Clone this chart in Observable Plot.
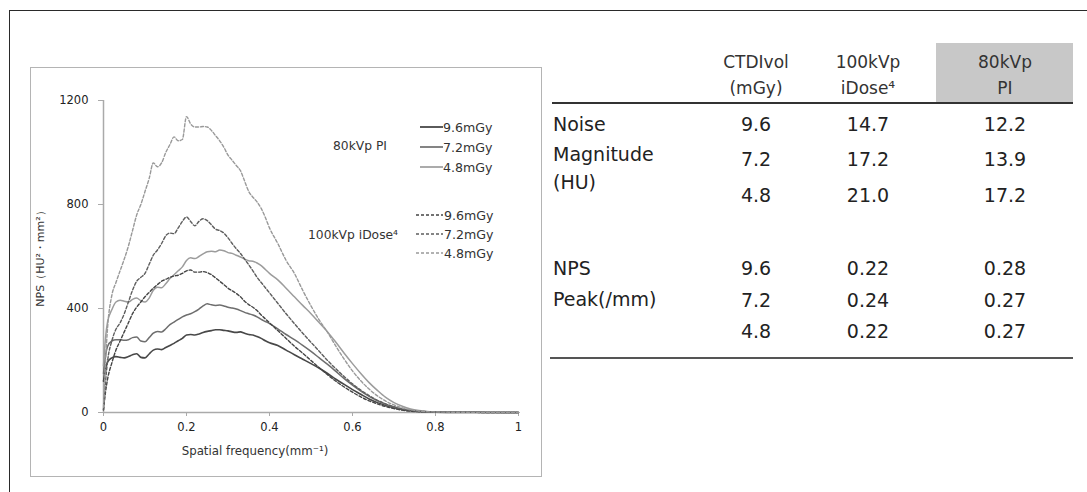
<!DOCTYPE html>
<html>
<head>
<meta charset="utf-8">
<script src="https://cdn.jsdelivr.net/npm/d3@7"></script>
<script src="https://cdn.jsdelivr.net/npm/@observablehq/plot@0.6"></script>
<style>
  html, body { margin:0; padding:0; background:#fff; }
  #root { position:relative; width:1087px; height:492px; overflow:hidden; font-family:"DejaVu Sans", Verdana, sans-serif; color:#222; }
  .abs { position:absolute; white-space:nowrap; }
  .c { transform:translate(-50%,-50%); text-align:center; }
  .l { transform:translate(0,-50%); }
</style>
</head>
<body>
<div id="root"></div>
<script>
// ---- curve data ----
const freq = [0,0.005,0.01,0.02,0.03,0.04,0.05,0.06,0.07,0.08,0.09,0.10,0.11,0.12,0.13,0.14,0.15,0.16,0.17,0.18,0.19,0.20,0.21,0.22,0.23,0.24,0.25,0.26,0.27,0.28,0.29,0.30,0.31,0.32,0.33,0.34,0.35,0.36,0.37,0.38,0.39,0.40,0.42,0.44,0.46,0.48,0.50,0.52,0.54,0.56,0.58,0.60,0.62,0.64,0.66,0.68,0.70,0.72,0.74,0.76,0.78,0.80,0.85,0.90,0.95,1.00];

const pi96 = [120,170,195,
  210,215,212,210,215,222,226,212,210,225,240,244,242,250,258,266,276,285,298,300,298,302,308,312,315,318,318,316,314,310,308,310,305,300,298,292,285,276,268,
  258,240,222,205,188,170,150,128,108,88,70,52,38,27,18,11,7,4,2,1,
  0.5,0.3,0.2,0];
const pi72 = [150,220,255,
  275,280,280,278,280,288,290,275,272,288,305,312,310,322,338,348,358,368,375,380,388,398,410,418,414,412,413,410,405,402,398,392,385,380,375,368,358,350,342,
  322,300,280,258,235,210,185,158,130,105,82,62,45,32,21,13,8,5,3,2,
  1,0.5,0.3,0];
const pi48 = [180,290,350,
  395,425,432,428,425,435,440,430,425,440,470,482,480,495,515,530,545,560,585,595,592,600,610,618,620,618,625,622,615,612,605,598,590,584,582,575,565,550,535,
  510,478,445,412,380,345,310,270,228,188,150,115,85,58,38,24,14,8,4,2.5,
  1,0.5,0.3,0];
const id96 = [10,80,130,
  190,240,275,310,345,380,405,425,445,462,478,492,505,512,520,525,528,535,545,548,540,540,542,538,530,518,505,492,478,468,458,445,428,415,405,392,375,360,345,
  315,285,255,228,200,172,145,120,98,78,60,45,33,23,15,9,5,3,2,1,
  0.5,0.3,0.2,0];
const id72 = [10,120,200,
  275,320,345,380,425,470,505,520,535,570,605,625,650,680,690,688,710,735,752,735,718,735,745,738,722,705,700,690,672,650,630,612,590,568,545,520,500,480,460,
  420,380,342,305,270,235,200,168,138,110,86,65,47,33,22,14,8,5,3,2,
  1,0.5,0.3,0];
const id48 = [20,200,330,
  450,500,545,590,640,700,760,800,850,900,960,945,960,1000,1030,1060,1045,1050,1138,1110,1098,1098,1100,1098,1085,1065,1045,1020,990,970,950,930,890,850,828,810,785,750,710,
  650,585,535,470,410,355,308,255,205,160,122,90,64,44,29,18,11,6,3,2,
  1,0.5,0.3,0];

const xTicks = [0, 0.2, 0.4, 0.6, 0.8, 1];
const yTicks = [0, 400, 800, 1200];

// ---- table data ----
const ctdi = ["9.6", "7.2", "4.8"];
const noiseIDose = ["14.7", "17.2", "21.0"];
const noisePI = ["12.2", "13.9", "17.2"];
const peakIDose = ["0.22", "0.24", "0.22"];
const peakPI = ["0.28", "0.27", "0.27"];
const doseLabels = ["9.6mGy", "7.2mGy", "4.8mGy"];

const series = [
  {name:"80kVp PI 9.6mGy", y:pi96, stroke:"#484848", dash:null, w:1.6},
  {name:"80kVp PI 7.2mGy", y:pi72, stroke:"#6e6e6e", dash:null, w:1.5},
  {name:"80kVp PI 4.8mGy", y:pi48, stroke:"#9c9c9c", dash:null, w:1.5},
  {name:"100kVp iDose 9.6mGy", y:id96, stroke:"#444444", dash:"3,2", w:1.4},
  {name:"100kVp iDose 7.2mGy", y:id72, stroke:"#5e5e5e", dash:"3,2", w:1.4},
  {name:"100kVp iDose 4.8mGy", y:id48, stroke:"#999999", dash:"3,2", w:1.4}
];

const root = document.getElementById("root");
function add(html){ root.insertAdjacentHTML("beforeend", html); }

// frames
add(`<div class="abs" style="left:9px;top:10px;width:1100px;height:600px;border-left:1.5px solid #2a2a2a;border-top:1.5px solid #2a2a2a;"></div>`);
add(`<div class="abs" style="left:30px;top:67px;width:510px;height:408px;border:1.5px solid #b4b4b4;"></div>`);

const lineMarks = series.map(s => Plot.line(freq.map((f,i)=>({x:f, y:s.y[i]})), {
  x:"x", y:"y", stroke:s.stroke, strokeWidth:s.w, strokeDasharray:s.dash || undefined, curve:"monotone-x"
}));

const chart = Plot.plot({
  width:1087, height:492,
  marginLeft:103, marginRight:569, marginTop:100, marginBottom:80,
  x:{domain:[0,1]},
  y:{domain:[0,1200]},
  style:{fontFamily:"'DejaVu Sans', Verdana, sans-serif", fontSize:"11.5px", color:"#222", background:"transparent", overflow:"visible"},
  marks:[
    Plot.axisX({ticks:xTicks, tickSize:4, tickPadding:6, label:null, stroke:"#aaa", fill:"#222", tickFormat:d=>String(d)}),
    Plot.axisY({ticks:yTicks, tickSize:5, tickPadding:10, label:null, stroke:"#aaa", fill:"#222", tickFormat:d=>String(d)}),
    Plot.ruleY([0], {stroke:"#aaa", strokeWidth:1.5}),
    Plot.ruleX([0], {stroke:"#aaa", strokeWidth:1.5}),
    ...lineMarks
  ]
});
chart.style.position = "absolute";
chart.style.left = "0px";
chart.style.top = "0px";
root.appendChild(chart);

// axis titles
add(`<div class="abs c" style="left:255px;top:451px;font-size:11.8px;color:#333;">Spatial frequency(mm⁻¹)</div>`);
add(`<div class="abs" style="left:40px;top:256px;font-size:11px;color:#333;transform:translate(-50%,-50%) rotate(-90deg);">NPS（HU²・mm²）</div>`);

// legend
add(`<div class="abs l" style="left:333px;top:146px;font-size:12.3px;color:#333;">80kVp PI</div>`);
add(`<div class="abs l" style="left:308px;top:235px;font-size:12.3px;color:#333;">100kVp iDose⁴</div>`);
const legY1 = [127, 147, 167], legY2 = [215, 234, 253];
series.slice(0,3).forEach((s,i)=>{
  add(`<svg class="abs" style="left:420px;top:${legY1[i]-3}px" width="24" height="6"><line x1="0" y1="3" x2="23" y2="3" stroke="${s.stroke}" stroke-width="${s.w+0.2}"/></svg>`);
  add(`<div class="abs l" style="left:443px;top:${legY1[i]}px;font-size:12.6px;color:#333;">${doseLabels[i]}</div>`);
});
series.slice(3).forEach((s,i)=>{
  add(`<svg class="abs" style="left:416px;top:${legY2[i]-3}px" width="28" height="6"><line x1="0" y1="3" x2="27" y2="3" stroke="${s.stroke}" stroke-width="1.4" stroke-dasharray="3,2"/></svg>`);
  add(`<div class="abs l" style="left:444px;top:${legY2[i]}px;font-size:12.6px;color:#333;">${doseLabels[i]}</div>`);
});

// table
add(`<div class="abs" style="left:936px;top:43px;width:137px;height:59px;background:#c8c8c8;"></div>`);
add(`<div class="abs" style="left:552px;top:102px;width:521px;height:2px;background:#333;"></div>`);
add(`<div class="abs" style="left:550px;top:357px;width:523px;height:2px;background:#555;"></div>`);
const colX = [756, 868, 1005];
const hdr = [["CTDIvol","(mGy)"],["100kVp","iDose⁴"],["80kVp","PI"]];
hdr.forEach((h,i)=>{
  add(`<div class="abs c" style="left:${colX[i]}px;top:62px;font-size:17px;color:#333;">${h[0]}</div>`);
  add(`<div class="abs c" style="left:${colX[i]}px;top:88px;font-size:17px;color:#333;">${h[1]}</div>`);
});
const labY1 = [124, 154, 182], valY1 = [124, 159, 195];
["Noise","Magnitude","(HU)"].forEach((t,i)=>add(`<div class="abs l" style="left:553px;top:${labY1[i]}px;font-size:19px;color:#222;">${t}</div>`));
const labY2 = [268, 299], valY2 = [268, 300, 331];
["NPS","Peak(/mm)"].forEach((t,i)=>add(`<div class="abs l" style="left:553px;top:${labY2[i]}px;font-size:19px;color:#222;">${t}</div>`));
ctdi.forEach((v,i)=>{
  add(`<div class="abs c" style="left:${colX[0]}px;top:${valY1[i]}px;font-size:19px;">${v}</div>`);
  add(`<div class="abs c" style="left:${colX[1]}px;top:${valY1[i]}px;font-size:19px;">${noiseIDose[i]}</div>`);
  add(`<div class="abs c" style="left:${colX[2]}px;top:${valY1[i]}px;font-size:19px;">${noisePI[i]}</div>`);
  add(`<div class="abs c" style="left:${colX[0]}px;top:${valY2[i]}px;font-size:19px;">${v}</div>`);
  add(`<div class="abs c" style="left:${colX[1]}px;top:${valY2[i]}px;font-size:19px;">${peakIDose[i]}</div>`);
  add(`<div class="abs c" style="left:${colX[2]}px;top:${valY2[i]}px;font-size:19px;">${peakPI[i]}</div>`);
});
</script>
</body>
</html>
